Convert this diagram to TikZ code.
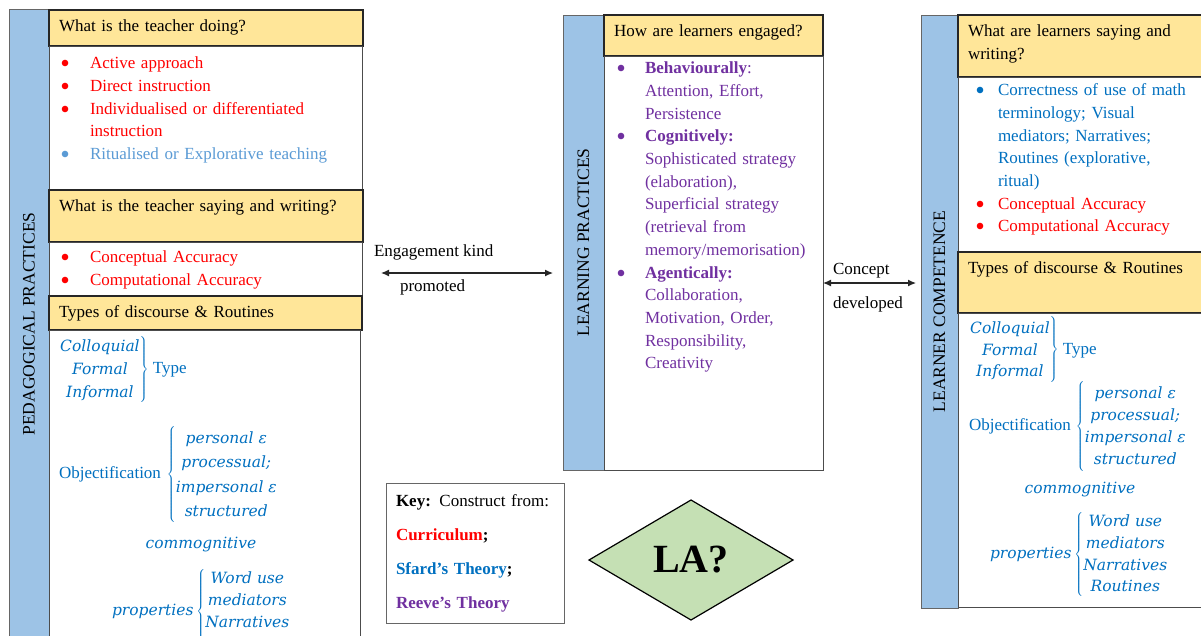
\documentclass[tikz,border=0pt]{standalone}
\usepackage{fontspec}
\setmainfont{Liberation Serif}
\newfontfamily\slabfont{DejaVu Serif}
\usetikzlibrary{shapes.geometric, arrows.meta, positioning}

\definecolor{barblue}{HTML}{9DC3E6}
\definecolor{headyellow}{HTML}{FFE699}
\definecolor{curric}{HTML}{FF0000}
\definecolor{sfard}{HTML}{0070C0}
\definecolor{sfardlight}{HTML}{5B9BD5}
\definecolor{reeve}{HTML}{7030A0}
\definecolor{lagreen}{HTML}{C5E0B4}

\newcommand{\slabit}{\slabfont\itshape\fontsize{15.5}{22}\selectfont}
\newenvironment{pts}[2]{\begin{list}{}{%
  \setlength\leftmargin{#1}\setlength\labelsep{#2}%
  \setlength\labelwidth{0pt}\setlength\itemindent{0pt}%
  \setlength\itemsep{0pt}\setlength\parsep{0pt}%
  \setlength\topsep{0pt}\setlength\partopsep{0pt}}}{\end{list}}
\newcommand{\bul}[1]{\item[\llap{\textcolor{#1}{\raisebox{-0.24em}{\scalebox{1.6}{\textbullet}}}}]\leavevmode\color{#1}\strut}
\newcommand{\rightgrp}[2][1]{$\left.\hbox{\slabit\renewcommand\arraystretch{#1}\begin{tabular}{@{}c@{}}#2\end{tabular}}\right\}$}
\newcommand{\leftgrp}[2][1]{$\left\{\hbox{\slabit\renewcommand\arraystretch{#1}\begin{tabular}{@{}c@{}}#2\end{tabular}}\right.$}

\begin{document}
\begin{tikzpicture}[x=1pt, y=-1pt,
    font=\fontsize{17}{22.7}\selectfont,
    every node/.style={inner sep=0pt, outer sep=0pt},
    sizebox/.style 2 args={anchor=north west, minimum width=#1pt, minimum height=#2pt},
    bar/.style={draw=black!60, line width=1pt, fill=barblue},
    head/.style={draw=black!85, line width=1.2pt, fill=headyellow},
    body/.style={draw=black!70, line width=1pt, fill=white},
    textblock/.style={anchor=north west, inner xsep=10pt, inner ysep=6pt, text width=#1pt, align=left},
    bartext/.style={rotate=90, font=\fontsize{17.5}{21}\selectfont},
    grp/.style={anchor=west, text=sfard},
    twoway/.style={{Latex[length=8pt,width=7pt]}-{Latex[length=8pt,width=7pt]}, line width=1.2pt, black!85}
  ]
  \useasboundingbox (0,0) rectangle (1201,635);
  \clip (0,0) rectangle (1201,635);
  \fill[white] (0,0) rectangle (1201,635);

  % pedagogical practices
  \node[bar, sizebox={40}{630}] (lbar) at (9,9) {};
  \node[bartext] at (lbar.center) {PEDAGOGICAL PRACTICES};
  \node[head, sizebox={314}{36}] (lh1) at (49,10) {};
  \node[body, sizebox={313}{144}] (lb1) at (49,46) {};
  \node[head, sizebox={314}{52}] (lh2) at (49,190) {};
  \node[body, sizebox={313}{54}] (lb2) at (49,242) {};
  \node[head, sizebox={313}{34}] (lh3) at (49,296) {};
  \node[body, sizebox={311}{320}] (lb3) at (49,330) {};

  \node[textblock=293] at (lh1.north west) {\strut What is the teacher doing?};
  \node[textblock=293, yshift=6pt] at (lb1.north west) {\begin{pts}{31pt}{20pt}
      \bul{curric}Active approach
      \bul{curric}Direct instruction
      \bul{curric}Individualised or differentiated\\instruction
      \bul{sfardlight}Ritualised or Explorative teaching
    \end{pts}};
  \node[textblock=293] at (lh2.north west) {\strut What is the teacher saying and writing?};
  \node[textblock=293, inner ysep=3pt, yshift=5pt] at (lb2.north west) {\begin{pts}{31pt}{20pt}
      \bul{curric}Conceptual Accuracy
      \bul{curric}Computational Accuracy
    \end{pts}};
  \node[textblock=293] at (lh3.north west) {\strut Types of discourse \& Routines};

  \node[grp] (ltype) at (59,370) {\rightgrp[1.04]{Colloquial\\Formal\\Informal}\ Type};
  \node[grp] (lobj) at (59,475) {Objectification\hspace{6pt}\leftgrp[1.11]{personal ε\\processual;\\impersonal ε\\structured}};
  \node[text=sfard, font=\slabit] (lcom) at (201,545) {commognitive};
  \node[grp] (lprop) at (112,612) {{\slabit properties}\hspace{3pt}\leftgrp[0.98]{Word use\\mediators\\Narratives\\Routines}};

  % learning practices
  \node[bar, sizebox={41}{455}] (mbar) at (563,15) {};
  \node[bartext] at (mbar.center) {LEARNING PRACTICES};
  \node[head, sizebox={219}{41}] (mh) at (604,15) {};
  \node[body, sizebox={219}{414}] (mb) at (604,56) {};

  \node[textblock=199] at (mh.north west) {\strut How are learners engaged?};
  \node[textblock=205, inner ysep=0pt, yshift=5pt] at (mb.north west) {\begin{pts}{31pt}{19pt}
      \bul{reeve}\textbf{Behaviourally}:\\Attention, Effort,\\Persistence
      \bul{reeve}\textbf{Cognitively:}\\Sophisticated strategy\\(elaboration),\\Superficial strategy\\(retrieval from\\memory/memorisation)
      \bul{reeve}\textbf{Agentically:}\\Collaboration,\\Motivation, Order,\\Responsibility,\\Creativity
    \end{pts}};

  % learner competence
  \node[bar, sizebox={37}{593}] (rbar) at (921,15) {};
  \node[bartext] at (rbar.center) {LEARNER COMPETENCE};
  \node[head, sizebox={260}{62}] (rh1) at (958,15) {};
  \node[body, sizebox={260}{175}] (rb1) at (958,77) {};
  \node[head, sizebox={260}{61}] (rh2) at (958,252) {};
  \node[body, sizebox={260}{294}] (rb2) at (958,313) {};

  \node[textblock=232] at (rh1.north west) {\strut What are learners saying and\\writing?};
  \node[textblock=232, inner ysep=1pt, yshift=5pt] at (rb1.north west) {\begin{pts}{30pt}{13pt}
      \bul{sfard}Correctness of use of math\\terminology; Visual\\mediators; Narratives;\\Routines (explorative,\\ritual)
      \bul{curric}Conceptual Accuracy
      \bul{curric}Computational Accuracy
    \end{pts}};
  \node[textblock=232] at (rh2.north west) {\strut Types of discourse \& Routines};

  \node[grp] (rtype) at (969,350) {\rightgrp[0.98]{Colloquial\\Formal\\Informal}\ Type};
  \node[grp] (robj) at (969,426) {Objectification\hspace{5pt}\leftgrp{personal ε\\processual;\\impersonal ε\\structured}};
  \node[text=sfard, font=\slabit] (rcom) at (1080,490) {commognitive};
  \node[grp] (rprop) at (990,555) {{\slabit properties}\hspace{3pt}\leftgrp[0.98]{Word use\\mediators\\Narratives\\Routines}};

  % links between the columns
  \coordinate (y1) at (0,273);
  \coordinate (y2) at (0,283);
  \draw[twoway, shorten <=19pt, shorten >=10pt] (lb2.east |- y1) -- (mbar.west |- y1);
  \draw[twoway, shorten >=5pt] (mb.east |- y2) -- (rbar.west |- y2);
  \node[anchor=base west] (ek) at (374,256) {Engagement kind};
  \node[anchor=base west] (pr) at (400,291) {promoted};
  \node[anchor=base west] (cc) at (833,274) {Concept};
  \node[anchor=base west] (dv) at (833,308) {developed};

  % key and LA
  \node[draw=black!60, line width=1pt, sizebox={178}{140}, text width=158pt, align=left,
        inner xsep=10pt, font=\fontsize{17}{34}\selectfont] (key) at (386,483)
    {\textbf{Key:} Construct from:\\
     \textbf{\textcolor{curric}{Curriculum};}\\
     \textbf{\textcolor{sfard}{Sfard’s Theory};}\\
     \textbf{\textcolor{reeve}{Reeve’s Theory}}};
  \node[diamond, draw, line width=1.2pt, fill=lagreen, minimum width=204pt, minimum height=120pt,
        font=\bfseries\fontsize{40}{40}\selectfont] (la) at (691,560) {LA?};
\end{tikzpicture}
\end{document}
